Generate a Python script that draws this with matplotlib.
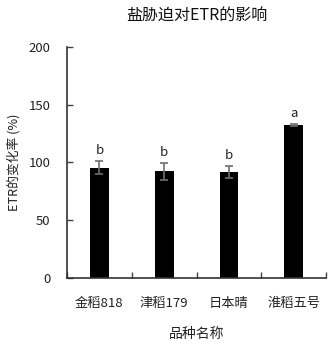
import numpy as np
import matplotlib
matplotlib.use('Agg')
import matplotlib.pyplot as plt

plt.rcParams['font.family'] = ['Noto Sans CJK SC', 'DejaVu Sans']

# 数据
varieties = ['金稻818', '津稻179', '日本晴', '淮稻五号']
etr_change = [95.3, 92.3, 91.9, 132.4]
etr_err = [5.6, 7.5, 5.3, 0.8]
sig_letters = ['b', 'b', 'b', 'a']

fig = plt.figure(figsize=(3.29, 3.49), dpi=100)
ax = fig.add_axes([0.2036, 0.2043, 0.7874, 0.6602])

x = np.arange(len(varieties))
ax.bar(x, etr_change, width=0.29, color='black', zorder=2)
ax.errorbar(x, etr_change, yerr=etr_err, fmt='none', ecolor='#6e6e6e',
            elinewidth=1.2, capsize=3, capthick=1.2, zorder=3)

for xi, v, e, s in zip(x, etr_change, etr_err, sig_letters):
    ax.annotate(s, (xi, v + e), xytext=(0, 3), textcoords='offset points',
                ha='center', va='bottom', fontsize=9.5, color='#222222')

ax.set_xlim(-0.5, 3.5)
ax.set_ylim(0, 200)
ax.set_yticks([0, 50, 100, 150, 200])

# x轴刻度在类别之间
ax.set_xticks(x)
ax.set_xticklabels(varieties, fontsize=9.5, color='#222222')
ax.set_xticks(np.arange(-0.5, 4, 1), minor=True)
ax.tick_params(axis='x', which='major', length=0, pad=14)
ax.tick_params(axis='x', which='minor', direction='in', length=4, width=1, color='#444444')
ax.tick_params(axis='y', direction='in', length=4, width=1, labelsize=9.5,
               labelcolor='#222222', pad=12, color='#444444')

for sp in ['top', 'right']:
    ax.spines[sp].set_visible(False)
for sp in ['left', 'bottom']:
    ax.spines[sp].set_linewidth(1.2)
    ax.spines[sp].set_color('#333333')

ax.set_ylabel('ETR的变化率 (%)', fontsize=9.2, color='#222222')
ax.yaxis.set_label_coords(-0.178, 0.5)
ax.set_xlabel('品种名称', fontsize=10, color='#222222', labelpad=12)
ax.set_title('盐胁迫对ETR的影响', fontsize=11.5, color='#111111', pad=20)

fig.savefig('out.png', dpi=100)
